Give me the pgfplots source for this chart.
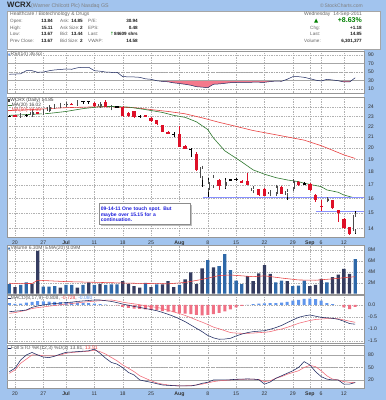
\documentclass[border=0pt]{standalone}
\usepackage{pgfplots}
\pgfplotsset{compat=1.18}
\usepackage{pgfplotstable}
\usepackage{fontspec}
\setmainfont{Liberation Sans}
\newfontfamily\dejavu{DejaVu Sans}

\definecolor{frame}{RGB}{162,196,238}
\definecolor{candred}{RGB}{222,16,40}
\definecolor{ma20}{RGB}{46,120,46}
\definecolor{ma50}{RGB}{232,64,64}
\definecolor{volup}{RGB}{46,104,168}
\definecolor{voldn}{RGB}{52,60,96}
\definecolor{navy}{RGB}{28,40,96}
\definecolor{sigred}{RGB}{242,104,118}
\definecolor{histpos}{RGB}{96,150,236}
\definecolor{histneg}{RGB}{240,112,132}
\definecolor{rsifill}{RGB}{244,120,140}
\definecolor{annblue}{RGB}{30,30,220}
\definecolor{hlblue}{RGB}{136,144,255}
\definecolor{upgreen}{RGB}{0,128,0}
\definecolor{labgray}{RGB}{90,90,90}
\definecolor{panelline}{RGB}{150,150,150}

\newcommand{\fs}[1]{\fontsize{#1}{#1}\selectfont}

% ---------------- candles (index: 0 = 20 Jun 2011) ----------------
\pgfplotstableread{
i o h l c
0 23.10 23.14 23.00 23.06
4 23.42 23.48 23.20 23.28
10 24.32 24.36 24.20 24.27
14 24.45 24.50 24.00 24.10
16 24.50 24.72 23.95 24.00
19 24.00 24.10 22.95 23.00
20 23.30 23.45 22.90 23.00
21 23.50 23.60 22.85 22.90
23 23.12 23.16 22.92 22.97
24 22.80 22.90 22.45 22.50
25 22.60 22.65 22.15 22.20
26 22.10 22.15 21.45 21.50
27 21.50 21.60 21.25 21.30
29 21.30 22.00 20.05 20.10
30 20.20 20.30 19.88 19.93
32 19.50 19.65 18.10 18.15
36 17.36 17.42 16.60 16.90
40 17.27 17.32 17.10 17.17
41 17.27 17.90 16.95 17.00
43 16.66 16.70 16.20 16.24
44 16.68 16.72 16.15 16.20
47 16.80 16.90 16.28 16.32
50 17.20 17.30 16.88 16.94
52 17.07 17.15 16.55 16.60
53 16.26 16.30 15.74 15.90
54 15.50 15.90 15.12 15.41
56 15.86 15.90 15.25 15.30
57 15.19 15.22 14.43 15.00
58 14.60 14.65 13.95 14.02
59 14.08 14.12 13.62 13.67
}\redc

\pgfplotstableread{
i o h l c
1 23.02 23.22 22.98 23.18
3 23.10 23.50 23.05 23.42
5 23.28 23.70 23.22 23.60
6 23.60 23.98 23.55 23.95
7 23.95 24.10 23.88 24.05
8 24.03 24.28 23.98 24.25
9 24.20 24.42 24.15 24.34
11 24.30 24.58 24.25 24.50
15 24.10 24.36 24.05 24.30
17 23.80 24.05 23.75 24.00
33 17.50 18.50 16.85 18.35
34 16.60 17.50 16.10 17.20
35 16.87 17.70 16.80 17.62
37 16.90 17.50 16.70 17.20
42 16.50 16.85 16.45 16.78
45 16.28 16.55 16.20 16.45
46 16.30 16.95 16.25 16.87
48 16.24 16.60 15.90 16.56
49 16.66 17.40 16.60 17.28
55 15.85 16.10 15.80 15.95
60 13.84 15.11 13.67 14.85
}\whitec

\pgfplotstableread{
i o h l c
-1 23.00 23.12 22.92 23.07
2 23.06 23.20 22.98 23.13
12 24.58 24.63 24.25 24.65
13 24.58 24.63 24.28 24.65
18 23.97 24.10 23.90 24.04
22 22.97 23.10 22.88 23.04
28 21.22 21.45 21.00 21.28
31 19.88 20.00 19.25 19.94
38 17.33 17.42 17.30 17.40
39 17.38 17.50 17.30 17.45
51 17.04 17.20 16.98 17.10
}\dojic

% ---------------- volume (millions) ----------------
\pgfplotstableread{
i v
-1 1.76
1 1.6
2 2.07
5 1.3
6 1.3
7 1.4
9 1.6
10 1.6
12 1.6
14 1.6
16 1.6
17 1.7
18 1.7
23 1.95
25 1.7
29 1.6
34 6.1
36 5.0
37 7.2
38 4.3
39 2.4
40 1.76
46 2.07
47 2.4
49 1.4
50 1.45
51 2.4
55 2.07
60 6.3
}\volupt

\pgfplotstableread{
i v
0 1.2
3 1.76
4 7.8
8 1.1
11 1.1
13 2.07
15 1.8
19 2.3
20 1.8
21 1.4
22 1.1
24 1.2
26 1.7
27 2.3
28 1.2
30 2.6
31 3.9
32 1.76
33 4.6
35 4.8
41 3.2
42 2.3
43 3.7
44 5.2
45 3.6
48 2.3
52 1.4
53 1.6
54 2.7
56 3.0
57 3.45
58 4.5
59 3.6
}\voldnt

% ---------------- MACD histogram ----------------
\pgfplotstableread{
i v
-1 0.08
0 0.05
1 0.06
2 0.10
3 0.13
4 0.16
5 0.15
6 0.14
7 0.13
8 0.12
9 0.12
10 0.11
11 0.10
12 0.09
13 0.08
14 0.06
15 0.04
16 0.02
41 0.01
42 0.04
43 0.06
44 0.07
45 0.08
46 0.08
47 0.10
48 0.13
49 0.18
50 0.22
51 0.26
52 0.27
53 0.25
54 0.18
55 0.08
56 0.04
}\histp

\pgfplotstableread{
i v
18 -0.02
19 -0.08
20 -0.12
21 -0.15
22 -0.16
23 -0.18
24 -0.20
25 -0.22
26 -0.26
27 -0.28
28 -0.30
29 -0.34
30 -0.36
31 -0.38
32 -0.42
33 -0.44
34 -0.42
35 -0.38
36 -0.33
37 -0.27
38 -0.18
39 -0.10
40 -0.04
58 -0.10
59 -0.17
60 -0.08
}\histn

% ---------------- RSI(14) ----------------
\pgfplotstableread{
i v
-1 44.7
0 45.2
1 46
2 53.2
3 53.2
4 49.4
5 50
6 53
7 55
8 56
9 57.2
10 56.5
11 60
12 61.2
13 61.2
14 53.2
15 52
16 50
17 49.4
18 49.4
19 39.1
20 38.8
21 38.4
22 37.6
23 34
24 32.9
25 29.6
26 28
27 27
28 24.5
29 23
30 21.2
31 19
32 15.5
33 14.5
34 13.2
35 21.2
36 22
37 23.5
38 24.9
39 25.5
40 25.8
41 25.9
42 26
43 26
44 25.9
45 27.5
46 28.9
47 28.2
48 33
49 39.1
50 39.1
51 37.6
52 34.5
53 31
54 28.9
55 32.9
56 31.3
57 29.6
58 26.6
59 26.6
60 36.63
}\rsit

\pgfplotsset{
  panel/.style={
    scale only axis, width=357pt, anchor=south west,
    xmin=-1.41, xmax=61.55,
    axis line style={draw=panelline, line width=0.5pt},
    xtick={0,5,9,14,19,24,29,34,39,44,49,52,54,58},
    xticklabels={},
    xmajorgrids, ymajorgrids,
    grid style={draw=black!30, line width=0.35pt, dash pattern=on 0.7pt off 1pt},
    major tick length=0pt, minor tick length=0pt,
    ytick pos=right, yticklabel pos=right,
    yticklabel style={font=\fs{5.2}, text=black!80, anchor=west, xshift=0.5pt},
    xticklabel style={font=\fs{5.2}, text=black!80},
    axis background/.style={fill=white},
    clip mode=individual,
  },
  dates/.style={xticklabels={20,27,\textbf{Jul},11,18,25,\textbf{Aug},8,15,22,29,\textbf{Sep},6,12}},
  cwick/.style={draw=none, mark=none, forget plot,
    error bars/.cd, y dir=both, y explicit, error mark=none,
    error bar style={draw=#1, line width=0.45pt}},
  cbody/.style 2 args={draw=none, mark=none, forget plot,
    error bars/.cd, y dir=both, y explicit, error mark=none,
    error bar style={draw=#1, line width=#2}},
}
\tikzset{lbl/.style={anchor=north west, inner sep=0.8pt, font=\fs{5}, text=labgray}}

\begin{document}
\begin{tikzpicture}
% background frame
\fill[frame] (0pt,0pt) rectangle (386pt,400pt);
% title
\node[anchor=base west, inner sep=0pt, font=\fs{7.8}\bfseries, text=black!85] at (7pt,392.5pt) {WCRX};
\node[anchor=base west, inner sep=0pt, font=\fs{5.3}, text=black!50] at (31pt,392.5pt) {(Warner Chilcott Plc) Nasdaq GS};
\node[anchor=base east, inner sep=0pt, font=\fs{5}, text=black!50] at (363pt,392.5pt) {\textcopyright\,StockCharts.com};
% header box
\filldraw[fill=white, draw=black!35, line width=0.4pt] (7pt,351pt) rectangle (380pt,389pt);
\begin{scope}[every node/.style={inner sep=0pt, font=\fs{4.6}, text=black!60}]
\node[anchor=base west, font=\fs{5}] at (10pt,384.2pt) {Healthcare / Biotechnology \& Drugs};
\node[anchor=base east, font=\fs{5}] at (362pt,384.2pt) {Wednesday \ 14-Sep-2011};
\node[anchor=base west] at (10pt,377.5pt) {Open:};
\node[anchor=base west] at (10pt,370.9pt) {High:};
\node[anchor=base west] at (10pt,364.2pt) {Low:};
\node[anchor=base west] at (10pt,357.5pt) {Prev Close:};
\node[anchor=base west] at (60pt,377.5pt) {Ask:};
\node[anchor=base west] at (60pt,370.9pt) {Ask Size:};
\node[anchor=base west] at (60pt,364.2pt) {Bid:};
\node[anchor=base west] at (60pt,357.5pt) {Bid Size:};
\node[anchor=base west] at (88pt,377.5pt) {P/E:};
\node[anchor=base west] at (88pt,370.9pt) {EPS:};
\node[anchor=base west] at (88pt,364.2pt) {Last:};
\node[anchor=base west] at (88pt,357.5pt) {VWAP:};
\node[anchor=base west] at (310pt,370.9pt) {Chg:};
\node[anchor=base west] at (310pt,364.2pt) {Last:};
\node[anchor=base west] at (304pt,357.5pt) {Volume:};
\end{scope}
\begin{scope}[every node/.style={inner sep=0pt, font=\fs{4.6}\bfseries, text=black!90}]
\node[anchor=base east] at (53pt,377.5pt) {13.84};
\node[anchor=base east] at (53pt,370.9pt) {15.11};
\node[anchor=base east] at (53pt,364.2pt) {13.67};
\node[anchor=base east] at (53pt,357.5pt) {13.67};
\node[anchor=base east] at (83pt,377.5pt) {14.85};
\node[anchor=base east] at (83pt,370.9pt) {2};
\node[anchor=base east] at (83pt,364.2pt) {13.44};
\node[anchor=base east] at (83pt,357.5pt) {2};
\node[anchor=base east] at (138pt,377.5pt) {30.94};
\node[anchor=base east] at (138pt,370.9pt) {0.48};
\node[anchor=base east] at (138pt,364.2pt) {{\dejavu\mdseries\textcolor{upgreen}{↑}}84609 shrs};
\node[anchor=base east] at (138pt,357.5pt) {14.58};
\node[anchor=base east] at (362pt,370.9pt) {+1.18};
\node[anchor=base east] at (362pt,364.2pt) {14.85};
\node[anchor=base east] at (362pt,357.5pt) {6,301,377};
\node[anchor=base east, font=\fs{7}\bfseries, text=upgreen] at (362pt,377pt) {+8.63\%};
\node[anchor=base west, font=\fs{5.5}\dejavu, text=upgreen] at (314pt,377pt) {▲};
\end{scope}
% white chart areas
\fill[white] (7pt,162pt) rectangle (364pt,350pt);
\fill[white] (7pt,12pt) rectangle (364pt,155pt);

% ---------------- RSI panel ----------------
\begin{axis}[panel, at={(7pt,307pt)}, height=42pt, ymin=0.7, ymax=99.5,
  ytick={10,30,50,70,90}, yticklabels={10,30,50,70,90}]
% oversold areas (RSI below 30)
\addplot[fill=rsifill, draw=none, forget plot] coordinates {
(24.88,30) (25,29.6) (26,28) (27,27) (28,24.5) (29,23) (30,21.2) (31,19) (32,15.5)
(33,14.5) (34,13.2) (35,21.2) (36,22) (37,23.5) (38,24.9) (39,25.5) (40,25.8)
(41,25.9) (42,26) (43,26) (44,25.9) (45,27.5) (46,28.9) (47,28.2) (47.38,30)};
\addplot[fill=rsifill, draw=none, forget plot] coordinates {(53.48,30) (54,28.9) (54.28,30)};
\addplot[fill=rsifill, draw=none, forget plot] coordinates {(56.76,30) (57,29.6) (58,26.6) (59,26.6) (59.34,30)};
\addplot[draw=black!35, line width=0.7pt, forget plot] coordinates {(-2,70) (62,70)};
\addplot[draw=black!35, line width=0.7pt, forget plot] coordinates {(-2,30) (62,30)};
\addplot[draw=black!35, line width=0.5pt, dash pattern=on 1.5pt off 1pt, forget plot] coordinates {(-2,50) (62,50)};
\addplot[draw=navy, line width=0.5pt] table[x=i, y=v] {\rsit};
\node[lbl] at (rel axis cs:0,1) {{\dejavu\fs{3.5}\textcolor{histpos}{▲}}RSI(14) 36.63};
\end{axis}

% ---------------- Price panel ----------------
\begin{axis}[panel, dates, at={(7pt,162.7pt)}, height=139.8pt,
  ymode=log, ymin=13.47, ymax=25.0,
  ytick={14,15,16,17,18,19,20,21,22,23,24},
  yticklabels={14,15,16,17,18,19,20,21,22,23,24}]
% moving averages
\addplot[draw=ma50, line width=0.6pt] coordinates {
(-1,23.6) (3,23.7) (9,23.9) (15,24.0) (21,23.9) (27,23.5) (30,23.26) (33,22.85)
(36,22.4) (39,22.0) (42,21.6) (45,21.3) (48,21.0) (51,20.7) (54,20.2) (56,19.8)
(58,19.4) (60,19.09)};
\addplot[draw=ma20, line width=0.6pt] coordinates {
(-1,23.1) (3,23.2) (6,23.3) (9,23.5) (12,23.8) (15,24.0) (17,24.03) (20,23.96)
(23,23.7) (26,23.4) (28,23.1) (30,22.9) (32,22.45) (34,21.69) (35,20.9) (37,19.75)
(40,18.8) (42,18.15) (44,17.81) (46,17.54) (48,17.36) (50,17.23) (51,17.11)
(54,16.85) (55,16.61) (57,16.44) (58,16.24) (60,16.02)};
% annotation lines
\addplot[draw=hlblue, line width=0.9pt] coordinates {(33.1,16.05) (61.55,16.05)};
\addplot[draw=hlblue, line width=0.9pt] coordinates {(53.1,15.13) (61.55,15.13)};
% wicks
\addplot[cwick=candred] table[x=i, y expr={(\thisrow{h}+\thisrow{l})/2}, y error expr={(\thisrow{h}-\thisrow{l})/2}] {\redc};
\addplot[cwick=black] table[x=i, y expr={(\thisrow{h}+\thisrow{l})/2}, y error expr={(\thisrow{h}-\thisrow{l})/2}] {\whitec};
\addplot[cwick=black] table[x=i, y expr={(\thisrow{h}+\thisrow{l})/2}, y error expr={(\thisrow{h}-\thisrow{l})/2}] {\dojic};
% bodies
\addplot[cbody={candred}{3.3pt}] table[x=i, y expr={(\thisrow{o}+\thisrow{c})/2}, y error expr={abs(\thisrow{c}-\thisrow{o})/2}] {\redc};
\addplot[cbody={black}{3.3pt}] table[x=i, y expr={(\thisrow{o}+\thisrow{c})/2}, y error expr={abs(\thisrow{c}-\thisrow{o})/2}] {\dojic};
\addplot[cbody={black!70}{3.6pt}] table[x=i, y expr={(\thisrow{o}+\thisrow{c})/2}, y error expr={abs(\thisrow{c}-\thisrow{o})/2}] {\whitec};
\addplot[draw=none, mark=none, forget plot,
  error bars/.cd, y dir=both, y explicit, error mark=-,
  error mark options={draw=black!70, line width=0.4pt, mark size=1.8pt},
  error bar style={draw=white, line width=2.8pt}]
  table[x=i, y expr={(\thisrow{o}+\thisrow{c})/2}, y error expr={abs(\thisrow{c}-\thisrow{o})/2}] {\whitec};
\node[lbl, font=\fs{4.8}, align=left, text=black!75] at (rel axis cs:0,1)
 {\rule{1.6pt}{2.8pt}\,WCRX (Daily) 14.85\\
  \textcolor{ma20}{\rule[0.45ex]{4pt}{0.6pt}}MA(20) 16.02\\
  \textcolor{ma50}{\rule[0.45ex]{4pt}{0.6pt}MA(50) 19.09}};
\end{axis}

% annotation box
\fill[black!25] (100.5pt,174.3pt) rectangle (191.5pt,195.3pt);
\node[draw=black!45, fill=white, anchor=north west, inner sep=1.6pt, line width=0.4pt,
  text width=87.5pt, minimum height=21pt, align=left, text=annblue,
  font=\fs{5}\bfseries] at (99pt,196.7pt)
  {\fontsize{5}{6.4}\selectfont 09-14-11 One touch spot. But\\maybe over 15.15 for a\\continuation.};

% ---------------- Volume panel ----------------
\begin{axis}[panel, at={(7pt,106pt)}, height=49pt, ymin=-0.05, ymax=8.85,
  ytick={2,4,6,8}, yticklabels={2M,4M,6M,8M}]
\addplot[ybar, bar width=3.3pt, bar shift=0pt, fill=volup, draw=none] table[x=i, y=v] {\volupt};
\addplot[ybar, bar width=3.3pt, bar shift=0pt, fill=voldn, draw=none] table[x=i, y=v] {\voldnt};
\addplot[draw=ma50, line width=0.55pt] coordinates {
(-1,1.9) (3,1.85) (4,2.45) (9,2.2) (15,2.05) (21,1.9) (27,1.8) (30,2.05) (33,2.6)
(36,3.3) (38,3.4) (42,3.1) (44,3.25) (47,2.85) (50,2.5) (53,2.45) (56,2.7) (59,3.0) (60,3.09)};
\node[lbl] at (rel axis cs:0,1) {{\dejavu\fs{3.5}\textcolor{volup}{▲}}Volume 6.30M, EMA(20) 3.09M};
\end{axis}

% ---------------- MACD panel ----------------
\begin{axis}[panel, at={(7pt,56.5pt)}, height=48.5pt, ymin=-1.618, ymax=0.42,
  ytick={-1.5,-1,-0.5,0}, yticklabels={-1.5,-1.0,-0.5,0.0}]
\addplot[ybar, bar width=3pt, bar shift=0pt, fill=histpos, draw=none] table[x=i, y=v] {\histp};
\addplot[ybar, bar width=3pt, bar shift=0pt, fill=histneg, draw=none] table[x=i, y=v] {\histn};
\addplot[draw=sigred, line width=0.55pt] coordinates {
(-1,-0.35) (0,-0.32) (1,-0.27) (2,-0.22) (3,-0.15) (4,-0.11) (5,-0.08) (6,-0.05)
(7,-0.02) (8,0.01) (9,0.04) (10,0.06) (11,0.09) (12,0.12) (13,0.14) (14,0.16)
(15,0.18) (16,0.20) (17,0.21) (18,0.17) (19,0.12) (20,0.08) (21,0.05) (22,0.01)
(23,-0.03) (24,-0.07) (25,-0.10) (26,-0.15) (27,-0.22) (28,-0.29) (29,-0.36)
(30,-0.44) (31,-0.53) (32,-0.63) (33,-0.72) (34,-0.82) (35,-0.93) (36,-1.0)
(37,-1.08) (38,-1.16) (39,-1.18) (40,-1.19) (41,-1.19) (42,-1.18) (43,-1.16)
(44,-1.15) (45,-1.12) (46,-1.06) (47,-1.01) (48,-0.94) (49,-0.86) (50,-0.77)
(51,-0.71) (52,-0.65) (53,-0.61) (54,-0.59) (55,-0.57) (56,-0.57) (57,-0.58)
(58,-0.63) (59,-0.68) (60,-0.728)};
\addplot[draw=navy, line width=0.55pt] coordinates {
(-1,-0.28) (0,-0.26) (1,-0.24) (2,-0.21) (3,-0.10) (4,-0.04) (5,0.0) (6,0.04)
(7,0.06) (8,0.08) (9,0.10) (10,0.12) (11,0.15) (12,0.17) (13,0.19) (14,0.21)
(15,0.21) (16,0.18) (17,0.15) (18,0.10) (19,0.04) (20,-0.01) (21,-0.06) (22,-0.10)
(23,-0.15) (24,-0.19) (25,-0.24) (26,-0.31) (27,-0.39) (28,-0.48) (29,-0.58)
(30,-0.70) (31,-0.84) (32,-0.98) (33,-1.12) (34,-1.28) (35,-1.38) (36,-1.44)
(37,-1.43) (38,-1.40) (39,-1.30) (40,-1.22) (41,-1.16) (42,-1.12) (43,-1.10)
(44,-1.08) (45,-1.02) (46,-0.95) (47,-0.86) (48,-0.74) (49,-0.63) (50,-0.52)
(51,-0.46) (52,-0.42) (53,-0.47) (54,-0.52) (55,-0.54) (56,-0.56) (57,-0.60)
(58,-0.68) (59,-0.78) (60,-0.808)};
\node[lbl] at (rel axis cs:0,1) {\textcolor{navy}{\rule[0.45ex]{3pt}{0.6pt}}MACD(8,17,9) -0.808, \textcolor{ma50}{-0.728}, \textcolor{histpos}{-0.080}};
\end{axis}

% ---------------- Full STO panel ----------------
\begin{axis}[panel, dates, at={(7pt,12pt)}, height=43pt, ymin=0.7, ymax=103.9,
  ytick={20,50,80}, yticklabels={20,50,80}]
\addplot[draw=black!35, line width=0.7pt, forget plot] coordinates {(-2,80) (62,80)};
\addplot[draw=black!35, line width=0.7pt, forget plot] coordinates {(-2,20) (62,20)};
\addplot[draw=black!35, line width=0.5pt, dash pattern=on 1.5pt off 1pt, forget plot] coordinates {(-2,50) (62,50)};
\addplot[draw=sigred, line width=0.55pt] coordinates {
(-1,36) (0,44) (1,60) (2,70) (3,80) (4,80) (5,78) (6,78) (7,78) (8,80) (9,84) (10,86)
(11,87) (12,88) (13,89) (14,91.6) (15,88) (16,82) (17,74) (18,66) (19,56) (20,48)
(21,40) (22,30) (23,24) (24,18) (25,13) (26,10) (27,8) (28,6.4) (29,6) (30,6)
(31,6.4) (32,8) (33,10) (34,13) (35,16) (36,18) (37,19) (38,20) (39,21) (40,21.6)
(41,22) (42,22) (43,21) (44,16) (45,18) (46,24) (47,28) (48,33.6) (49,38) (50,42)
(51,50) (52,55) (53,52) (54,42) (55,30) (56,22) (57,20) (58,16) (59,14.4) (60,13.51)};
\addplot[draw=navy, line width=0.55pt] coordinates {
(-1,40) (0,48) (1,68) (2,80) (3,86) (4,80) (5,75) (6,73.6) (7,77) (8,82) (9,86.4)
(10,87) (11,88) (12,89) (13,90) (14,94) (15,84) (16,72) (17,62) (18,58) (19,49.5)
(20,38) (21,32) (22,20) (23,17) (24,14.4) (25,11) (26,8) (27,7) (28,6.4) (29,5.6)
(30,5.6) (31,5.6) (32,8) (33,12) (34,14.4) (35,20) (36,20) (37,20) (38,20.5)
(39,21.6) (40,22) (41,22.4) (42,22) (43,20.8) (44,10) (45,15) (46,24) (47,30)
(48,36) (49,42) (50,50) (51,64) (52,56) (53,40) (54,28) (55,22) (56,20) (57,20)
(58,10) (59,10) (60,13.81)};
\node[lbl] at (rel axis cs:0,1) {\textcolor{navy}{\rule[0.45ex]{3pt}{0.6pt}}Full STO \%K(12,3) \%D(3) 13.81, \textcolor{ma50}{13.51}};
\end{axis}

\pgfresetboundingbox
\path[use as bounding box] (0pt,0pt) rectangle (386pt,400pt);
\end{tikzpicture}
\end{document}
